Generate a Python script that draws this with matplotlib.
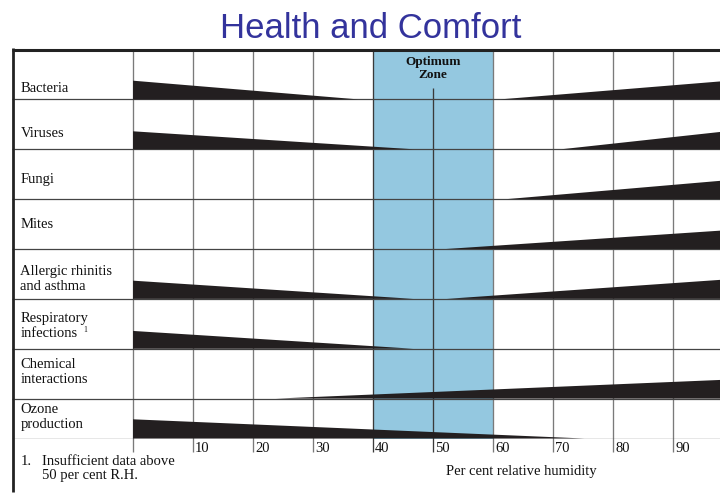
import matplotlib
matplotlib.use("Agg")
import matplotlib.pyplot as plt

# Chart content
title = "Health and Comfort"
conditions = [
    "Bacteria",
    "Viruses",
    "Fungi",
    "Mites",
    "Allergic rhinitis\nand asthma",
    "Respiratory\ninfections",
    "Chemical\ninteractions",
    "Ozone\nproduction",
]
# wedge thick at 0 % RH, thinning out to left_tip (None = no wedge)
left_tip = [37.5, 46.7, None, None, 46.7, 46.7, None, 75.2]
left_height = [0.375, 0.36, 0, 0, 0.365, 0.357, 0, 0.385]
# wedge thin at right_start, thick at 100 % RH
right_start = [61.2, 71.4, 62.3, 52.2, 52.3, None, 23.8, None]
right_height = [0.381, 0.375, 0.389, 0.385, 0.399, 0, 0.385, 0]
row_heights = [1, 1, 1, 1, 1, 1, 1, 0.8]
humidity_ticks = [10, 20, 30, 40, 50, 60, 70, 80, 90]
zone = (40, 60)
xlabel = "Per cent relative humidity"
footnote = ["1.", "Insufficient data above", "50 per cent R.H."]

# Layout (pixel geometry of the 720x493 canvas)
W, H = 720, 493
PX_X = 6.0      # px per % RH
PX_Y = 49.87    # px per row unit
X0_PX = 133.0   # px of 0 % RH
Y0_PX = 438.5   # px of table bottom
SERIF = "Liberation Serif"
BLACK = "#231f20"
TXT = "#111111"
FS = 10.5


def py(px):
    """image pixel row -> data y"""
    return (Y0_PX - px) / PX_Y


def px_(px):
    """image pixel column -> data x"""
    return (px - X0_PX) / PX_X


fig = plt.figure(figsize=(W / 100, H / 100), dpi=100)
top = sum(row_heights)
x_left, x_right = px_(12), px_(720)
ax = fig.add_axes([12 / W, 1 - Y0_PX / H, 708 / W, top * PX_Y / H])
ax.set_xlim(x_left, x_right)
ax.set_ylim(0, top)
ax.axis("off")

fig.text(371 / W, 1 - 38.3 / H, title, ha="center", va="baseline",
         fontsize=25, color="#33339c", family="Liberation Sans")

# optimum zone
ax.axvspan(zone[0], zone[1], ymin=0, ymax=1, color="#94c8e0", lw=0, zorder=0)
ax.text((zone[0] + zone[1]) / 2, py(65.5), "Optimum", ha="center", va="baseline",
        fontsize=9.5, fontweight="bold", family=SERIF, color=TXT)
ax.text((zone[0] + zone[1]) / 2, py(78.0), "Zone", ha="center", va="baseline",
        fontsize=9.5, fontweight="bold", family=SERIF, color=TXT)

# vertical grid lines with downward ticks
tick_bottom = py(452)
for v in [0] + humidity_ticks:
    upper = py(88) if v == 50 else top
    col = "#3a3a3a" if v in (zone[0], 50) else "#7a7a7a"
    ax.plot([v, v], [tick_bottom, upper], color=col, lw=0.95, zorder=1,
            clip_on=False, solid_capstyle="butt")
for v in humidity_ticks:
    ax.text(v + 2.2 / PX_X, py(452.5), str(v), ha="left", va="baseline",
            fontsize=FS, family=SERIF, color=TXT)

# row boundaries
bottoms = []
y = top
for h in row_heights:
    y -= h
    bottoms.append(y)
for b in bottoms:
    ax.plot([x_left, x_right], [b, b], color="#444444", lw=0.9, zorder=2,
            solid_capstyle="butt")

# wedges
for i, b in enumerate(bottoms):
    if left_tip[i] is not None:
        ax.fill([0, 0, left_tip[i]], [b, b + left_height[i], b],
                color=BLACK, lw=0, zorder=3)
    if right_start[i] is not None:
        ax.fill([right_start[i], 100, 100], [b, b + right_height[i], b],
                color=BLACK, lw=0, zorder=3, clip_on=True)

# row labels
first_baseline = [7.4, 12.7, 16.0, 20.5, 23.5, 26.8, 30.8, 25.2]
for i, (name, b) in enumerate(zip(conditions, bottoms)):
    for j, line in enumerate(name.split("\n")):
        yy = b + (first_baseline[i] - 14.7 * j) / PX_Y
        ax.text(px_(20.5), yy, line, ha="left", va="baseline",
                fontsize=FS, family=SERIF, color=TXT)
ax.text(px_(83), bottoms[5] + (26.8 - 14.7 + 5.0) / PX_Y, "1",
        ha="left", va="baseline", fontsize=5.5, family=SERIF, color=TXT)

# borders
ax.plot([x_left, x_right], [top, top], color="#222222", lw=2.2, zorder=5,
        clip_on=False, solid_capstyle="butt")
ax.plot([px_(13.3), px_(13.3)], [top + 1.1 / PX_Y, py(492)], color="#222222",
        lw=2.0, zorder=5, clip_on=False, solid_capstyle="butt")

# axis title and footnote
ax.text(px_(521), py(475), xlabel, ha="center", va="baseline",
        fontsize=FS, family=SERIF, color=TXT)
ax.text(px_(20.7), py(465), footnote[0], ha="left", va="baseline",
        fontsize=FS, family=SERIF, color=TXT)
ax.text(px_(41.7), py(465), footnote[1], ha="left", va="baseline",
        fontsize=FS, family=SERIF, color=TXT)
ax.text(px_(41.7), py(478.5), footnote[2], ha="left", va="baseline",
        fontsize=FS, family=SERIF, color=TXT)

fig.savefig("out.png", dpi=100, facecolor="white")
